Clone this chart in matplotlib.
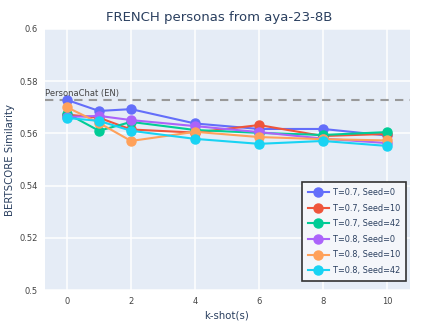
import matplotlib
matplotlib.use("Agg")
import matplotlib.pyplot as plt

k_shots = [0, 1, 2, 4, 6, 8, 10]
series_labels = ["T=0.7, Seed=0", "T=0.7, Seed=10", "T=0.7, Seed=42",
                 "T=0.8, Seed=0", "T=0.8, Seed=10", "T=0.8, Seed=42"]
t07_s0 = [0.5728, 0.5686, 0.5693, 0.5638, 0.5617, 0.5617, 0.5592]
t07_s10 = [0.5672, 0.5660, 0.5615, 0.5603, 0.5632, 0.5590, 0.5598]
t07_s42 = [0.5676, 0.5610, 0.5644, 0.5613, 0.5602, 0.5594, 0.5605]
t08_s0 = [0.5663, 0.5667, 0.5651, 0.5628, 0.5605, 0.5580, 0.5563]
t08_s10 = [0.5700, 0.5640, 0.5571, 0.5606, 0.5586, 0.5578, 0.5573]
t08_s42 = [0.5659, 0.5648, 0.5610, 0.5579, 0.5560, 0.5571, 0.5552]
series = [t07_s0, t07_s10, t07_s42, t08_s0, t08_s10, t08_s42]
colors = ["#636EFA", "#EF553B", "#00CC96", "#AB63FA", "#FFA15A", "#19D3F3"]
ref_value = 0.5728
ref_label = "PersonaChat (EN)"
x_ticks = [0, 2, 4, 6, 8, 10]
y_ticks = [0.5, 0.52, 0.54, 0.56, 0.58, 0.6]
y_tick_labels = ["0.5", "0.52", "0.54", "0.56", "0.58", "0.6"]

W, H = 439, 329
fig = plt.figure(figsize=(W / 100, H / 100), dpi=100)
ax = fig.add_axes([45 / W, 1 - 290 / H, (410 - 45) / W, (290 - 29) / H])
ax.set_facecolor("#E5ECF6")
for s in ax.spines.values():
    s.set_visible(False)
ax.grid(True, color="white", linewidth=1.1)
ax.set_axisbelow(True)

ax.axhline(ref_value, color="#999999", linestyle=(0, (4, 3)), linewidth=1.5, zorder=1.5)
ax.text(-0.68, ref_value + 0.0007, ref_label, fontsize=6.0, color="#444444",
        ha="left", va="bottom")

for vals, lab, c in zip(series, series_labels, colors):
    ax.plot(k_shots, vals, color=c, marker="o", markersize=6.5, linewidth=1.5, label=lab)

ax.set_xlim(-0.69, 10.72)
ax.set_ylim(0.5, 0.6)
ax.set_xticks(x_ticks)
ax.set_yticks(y_ticks)
ax.set_yticklabels(y_tick_labels)
ax.tick_params(length=0, labelsize=6.0, colors="#444444", pad=5)
fig.text(227 / W, 1 - 316 / H, "k-shot(s)", ha="center", va="center",
         fontsize=7.3, color="#2a3f5f")
fig.text(10 / W, 1 - 160 / H, "BERTSCORE Similarity", ha="center", va="center",
         rotation=90, fontsize=7.3, color="#2a3f5f")
fig.text(219 / W, 1 - 18 / H, "FRENCH personas from aya-23-8B", ha="center", va="center",
         fontsize=9.5, color="#2a3f5f")

leg = ax.legend(loc="lower right", bbox_to_anchor=(1.0, 0.02), fontsize=5.9, frameon=True,
                fancybox=False, edgecolor="#333333", facecolor="#F4F6FA", framealpha=1,
                handlelength=2.6, labelspacing=0.8, borderpad=0.7, handletextpad=0.5)
leg.get_frame().set_linewidth(1.2)
for t in leg.get_texts():
    t.set_color("#2a3f5f")

fig.savefig("out.png", dpi=100)
